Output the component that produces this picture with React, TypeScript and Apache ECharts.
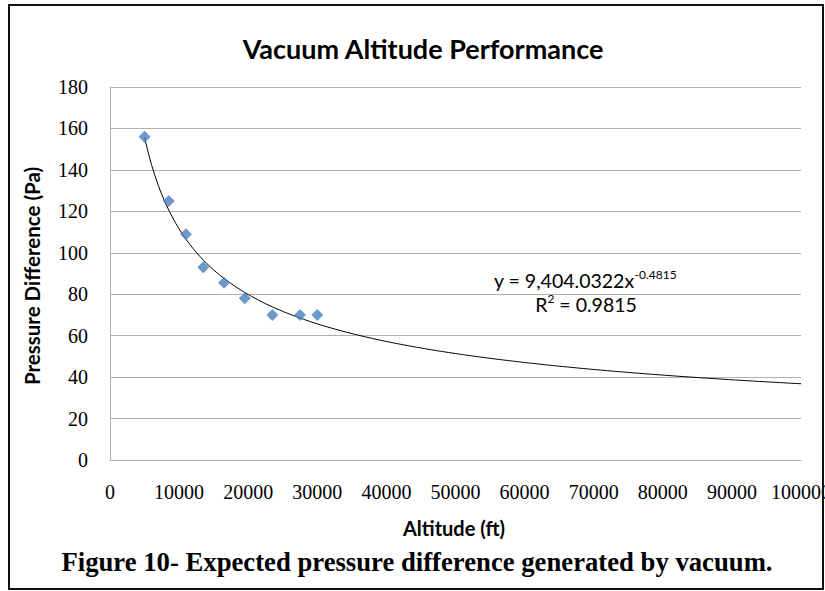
import React, { useEffect, useRef } from "react";
import * as echarts from "echarts";

// ---- data ----
const altitudeFt = [5000, 8500, 11000, 13500, 16500, 19500, 23500, 27500, 30000];
const pressurePa = [156, 125, 109, 93, 85.5, 78, 70, 70, 70];

// power trendline shown on the chart: y = A * x^B
const trendCoefA = 9404.0322;
const trendExpB = -0.4815;
const trendEquationMain = "y = 9,404.0322x";
const trendEquationExp = "-0.4815";
const rSquaredText = " = 0.9815";

const xAxisMin = 0;
const xAxisMax = 100000;
const xAxisInterval = 10000;
const yAxisMin = 0;
const yAxisMax = 180;
const yAxisInterval = 20;

const chartTitle = "Vacuum Altitude Performance";
const xAxisTitle = "Altitude (ft)";
const yAxisTitle = "Pressure Difference (Pa)";
const figureCaption = "Figure 10- Expected pressure difference generated by vacuum.";

const sansBold = "Lato, 'Open Sans', sans-serif";
const serif = "'Liberation Serif', 'DejaVu Serif', serif";

export default function App() {
  const ref = useRef<HTMLDivElement>(null);

  useEffect(() => {
    document.body.style.margin = "0";
    if (!ref.current) return;
    const chart = echarts.init(ref.current, undefined, { renderer: "svg" });

    const points = altitudeFt.map((x, i) => [x, pressurePa[i]]);
    const trend: number[][] = [];
    for (let x = altitudeFt[0]; x <= xAxisMax; x += 500) {
      trend.push([x, trendCoefA * Math.pow(x, trendExpB)]);
    }

    chart.setOption({
      animation: false,
      backgroundColor: "#ffffff",
      grid: {
        left: 110,
        right: 24,
        top: 87,
        bottom: 131,
        containLabel: false,
        outerBoundsMode: "none",
      },
      xAxis: {
        type: "value",
        min: xAxisMin,
        max: xAxisMax,
        interval: xAxisInterval,
        axisLine: { show: true, lineStyle: { color: "#b0b0b0", width: 1 } },
        axisTick: { show: false },
        splitLine: { show: false },
        axisLabel: {
          color: "#000",
          fontFamily: serif,
          fontSize: 20,
          margin: 22,
          showMaxLabel: true,
          showMinLabel: true,
          formatter: (v: number) => String(v),
        },
      },
      yAxis: {
        type: "value",
        min: yAxisMin,
        max: yAxisMax,
        interval: yAxisInterval,
        axisLine: { show: true, lineStyle: { color: "#b0b0b0", width: 1 } },
        axisTick: { show: false },
        splitLine: { show: true, lineStyle: { color: "#b0b0b0", width: 1 } },
        axisLabel: {
          color: "#000",
          fontFamily: serif,
          fontSize: 20,
          margin: 22,
        },
      },
      series: [
        {
          type: "line",
          data: trend,
          showSymbol: false,
          symbol: "none",
          smooth: false,
          lineStyle: { color: "#000", width: 1 },
          z: 2,
        },
        {
          type: "scatter",
          data: points,
          symbol: "diamond",
          symbolSize: 12,
          itemStyle: { color: "#4a7ebb" },
          z: 3,
        },
      ],
      graphic: [
        {
          type: "rect",
          shape: { x: 9, y: 5, width: 814, height: 584 },
          style: { fill: "none", stroke: "#111", lineWidth: 2 },
          z: 100,
        },
        {
          type: "text",
          x: 423,
          y: 48,
          style: {
            text: chartTitle,
            font: `bold 27px ${sansBold}`,
            fill: "#000",
            align: "center",
            verticalAlign: "middle",
          },
        },
        {
          type: "text",
          x: 32,
          y: 276,
          rotation: Math.PI / 2,
          style: {
            text: yAxisTitle,
            font: `bold 20.5px ${sansBold}`,
            fill: "#000",
            align: "center",
            verticalAlign: "middle",
          },
        },
        {
          type: "text",
          x: 454,
          y: 528,
          style: {
            text: xAxisTitle,
            font: `bold 20px ${sansBold}`,
            fill: "#000",
            align: "center",
            verticalAlign: "middle",
          },
        },
        {
          type: "text",
          x: 494,
          y: 279,
          style: {
            text: `{a|${trendEquationMain}}{b|${trendEquationExp}}`,
            fill: "#000",
            align: "left",
            verticalAlign: "middle",
            rich: {
              a: { fontFamily: sansBold, fontSize: 19.5, lineHeight: 22, verticalAlign: "bottom" },
              b: { fontFamily: sansBold, fontSize: 12, lineHeight: 22, verticalAlign: "top" },
            },
          },
        },
        {
          type: "text",
          x: 586,
          y: 303,
          style: {
            text: `{a|R}{b|2}{a|${rSquaredText}}`,
            fill: "#000",
            align: "center",
            verticalAlign: "middle",
            rich: {
              a: { fontFamily: sansBold, fontSize: 19.5, lineHeight: 22, verticalAlign: "bottom" },
              b: { fontFamily: sansBold, fontSize: 12, lineHeight: 22, verticalAlign: "top" },
            },
          },
        },
        {
          type: "text",
          x: 417,
          y: 562,
          style: {
            text: figureCaption,
            font: `bold 26.7px ${serif}`,
            fill: "#000",
            align: "center",
            verticalAlign: "middle",
          },
        },
      ],
    });

    return () => chart.dispose();
  }, []);

  return (
    <div
      ref={ref}
      style={{ position: "absolute", left: 0, top: 0, width: 825, height: 591, background: "#fff" }}
    />
  );
}
